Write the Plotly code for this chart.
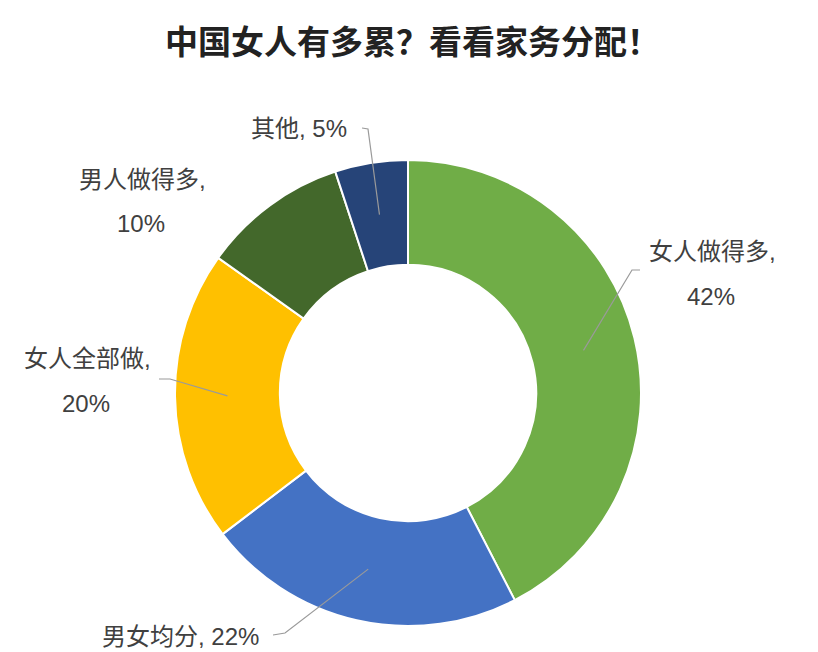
import numpy as np
import plotly.graph_objects as go

W, H = 818, 652
OFF = 8  # the page body keeps its default 8px margin

# data
categories = ["女人做得多", "男女均分", "女人全部做", "男人做得多", "其他"]
values = [42, 22, 20, 10, 5]
colors = ["#70AD47", "#4472C4", "#FFC000", "#43682B", "#264478"]
title = "中国女人有多累？看看家务分配！"

# donut geometry in page pixels
cx, cy, R = 408, 393, 233
hole = 0.55

FW, FH = W - OFF, H - OFF


def px(x):
    return (x - OFF) / FW


def py(y):
    return 1 - (y - OFF) / FH


fig = go.Figure(go.Pie(
    labels=categories,
    values=values,
    hole=hole,
    sort=False,
    direction="clockwise",
    rotation=0,
    textinfo="none",
    hoverinfo="label+percent",
    marker=dict(colors=colors, line=dict(color="white", width=2)),
    domain=dict(x=[px(cx - R), px(cx + R)], y=[py(cy + R), py(cy - R)]),
    showlegend=False,
))

# label placement: text rows (pixel centres) and elbow of the leader line
label_rows = [
    [(712, 252), (711, 297)],
    [(180, 636)],
    [(87, 358), (86, 403)],
    [(142, 180), (141, 223)],
    [(299, 128)],
]
elbows = [
    [(640, 270), (632, 270)],
    [(273, 635), (285, 633)],
    [(159, 379), (170, 379)],
    None,
    [(362, 128), (368, 129)],
]

label_font = dict(family="Liberation Sans, Noto Sans CJK SC", size=24, color="#404040")

total = sum(values)
cum = np.cumsum([0] + values)
r_mid = R * (1 + hole) / 2

annotations = []
shapes = []
for i, (name, val) in enumerate(zip(categories, values)):
    rows = label_rows[i]
    if len(rows) == 2:
        texts = [f"{name},", f"{val}%"]
    else:
        texts = [f"{name}, {val}%"]
    for (x, y), t in zip(rows, texts):
        annotations.append(dict(
            x=px(x), y=py(y), xref="paper", yref="paper",
            text=t, showarrow=False, xanchor="center", yanchor="middle",
            font=label_font,
        ))
    if elbows[i] is None:
        continue
    ang = np.deg2rad((cum[i] + val / 2) / total * 360)
    sx = cx + r_mid * np.sin(ang)
    sy = cy - r_mid * np.cos(ang)
    pts = elbows[i] + [(sx, sy)]
    path = "M " + " L ".join(f"{px(x):.5f},{py(y):.5f}" for x, y in pts)
    shapes.append(dict(type="path", path=path, xref="paper", yref="paper",
                       line=dict(color="#9a9a9a", width=1.2)))

annotations.append(dict(
    x=px(412), y=py(40), xref="paper", yref="paper",
    text=f"<b>{title}</b>", showarrow=False, xanchor="center", yanchor="middle",
    font=dict(family="Noto Sans CJK SC", size=33, color="#222222"),
))

fig.update_layout(
    width=FW, height=FH,
    margin=dict(l=0, r=0, t=0, b=0),
    paper_bgcolor="white",
    plot_bgcolor="white",
    annotations=annotations,
    shapes=shapes,
)

fig.write_html("out.html")
